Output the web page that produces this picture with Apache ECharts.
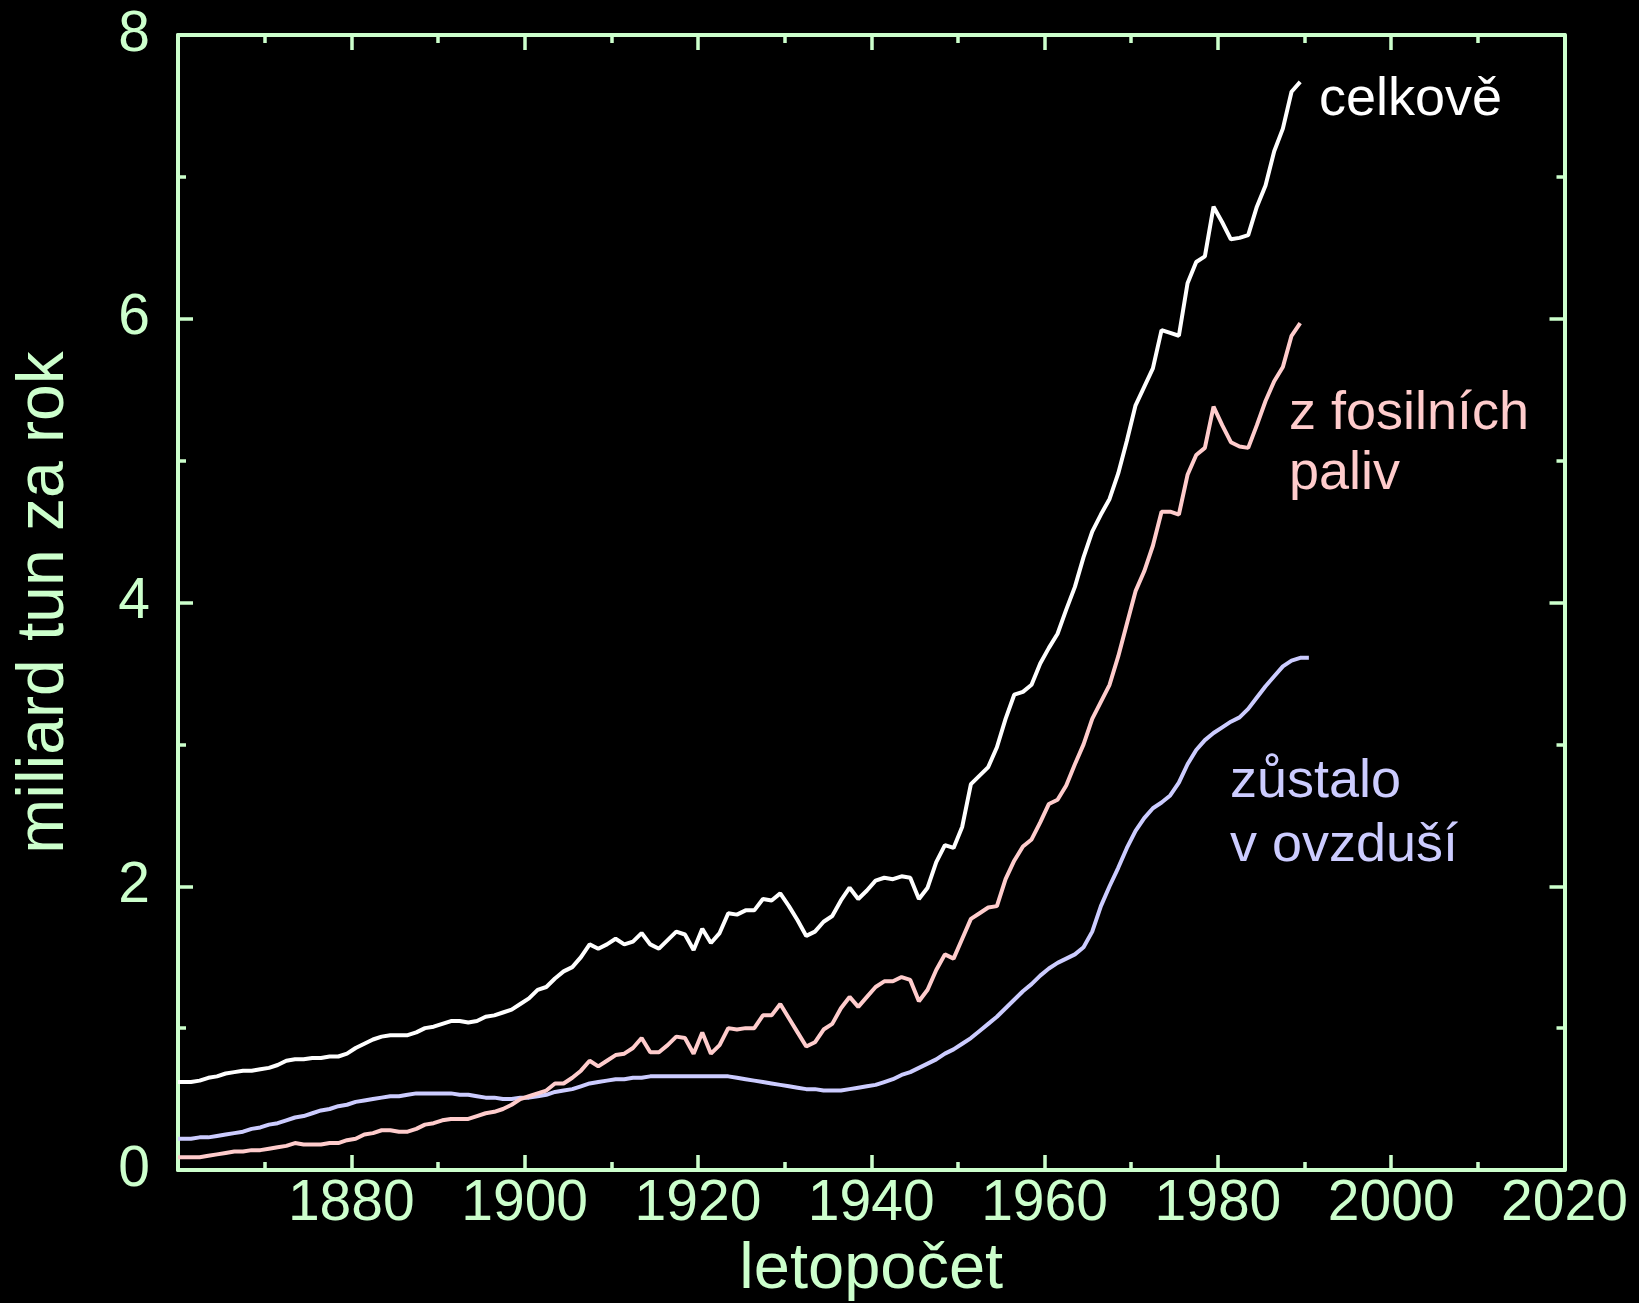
<!DOCTYPE html>
<html>
<head>
<meta charset="utf-8">
<script src="https://cdn.jsdelivr.net/npm/echarts@6/dist/echarts.min.js"></script>
<style>
html,body{margin:0;padding:0;background:#000;}
#c{width:1639px;height:1303px;}
</style>
</head>
<body>
<div id="c"></div>
<script>
// ---- data (one per year, plotted at mid-year) ----
const FIRST_YEAR = 1860;
const xTickLabels = [1880, 1900, 1920, 1940, 1960, 1980, 2000, 2020];
const yTickLabels = [0, 2, 4, 6, 8];

// celkově (total), 1860..1989
const celkove = [
  0.62,0.62,0.63,0.65,0.66,0.68,0.69,0.70,0.70,0.71,
  0.72,0.74,0.77,0.78,0.78,0.79,0.79,0.80,0.80,0.82,
  0.86,0.89,0.92,0.94,0.95,0.95,0.95,0.97,1.00,1.01,
  1.03,1.05,1.05,1.04,1.05,1.08,1.09,1.11,1.13,1.17,
  1.21,1.27,1.29,1.35,1.40,1.43,1.50,1.59,1.56,1.59,
  1.63,1.59,1.61,1.67,1.59,1.56,1.62,1.68,1.66,1.55,
  1.70,1.60,1.67,1.81,1.80,1.83,1.83,1.91,1.90,1.95,
  1.86,1.76,1.65,1.68,1.75,1.79,1.90,1.99,1.91,1.97,
  2.04,2.06,2.05,2.07,2.06,1.91,1.99,2.17,2.29,2.27,
  2.42,2.72,2.78,2.84,2.98,3.18,3.35,3.37,3.42,3.57,
  3.68,3.78,3.95,4.11,4.32,4.50,4.62,4.73,4.91,5.14,
  5.39,5.52,5.65,5.92,5.90,5.88,6.25,6.40,6.44,6.79,
  6.68,6.56,6.57,6.59,6.79,6.94,7.18,7.34,7.60,7.67
];

// z fosilních paliv (fossil fuels), 1860..1989
const fosilni = [
  0.09,0.09,0.09,0.10,0.11,0.12,0.13,0.13,0.14,0.14,
  0.15,0.16,0.17,0.19,0.18,0.18,0.18,0.19,0.19,0.21,
  0.22,0.25,0.26,0.28,0.28,0.27,0.27,0.29,0.32,0.33,
  0.35,0.36,0.36,0.36,0.38,0.40,0.41,0.43,0.46,0.50,
  0.52,0.54,0.56,0.61,0.61,0.65,0.70,0.77,0.73,0.77,
  0.81,0.82,0.86,0.93,0.83,0.83,0.88,0.94,0.93,0.82,
  0.97,0.82,0.88,1.00,0.99,1.00,1.00,1.09,1.09,1.17,
  1.07,0.97,0.87,0.90,0.99,1.03,1.14,1.22,1.15,1.22,
  1.29,1.33,1.33,1.36,1.34,1.19,1.27,1.41,1.52,1.49,
  1.63,1.77,1.81,1.85,1.86,2.05,2.18,2.28,2.33,2.45,
  2.58,2.61,2.71,2.86,3.00,3.18,3.30,3.42,3.62,3.85,
  4.08,4.22,4.40,4.64,4.64,4.62,4.90,5.04,5.09,5.38,
  5.25,5.13,5.10,5.09,5.25,5.42,5.56,5.66,5.88,5.97
];

// zůstalo v ovzduší (remained in the air), 1860..1990
const ovzdusi = [
  0.22,0.22,0.23,0.23,0.24,0.25,0.26,0.27,0.29,0.30,
  0.32,0.33,0.35,0.37,0.38,0.40,0.42,0.43,0.45,0.46,
  0.48,0.49,0.50,0.51,0.52,0.52,0.53,0.54,0.54,0.54,
  0.54,0.54,0.53,0.53,0.52,0.51,0.51,0.50,0.50,0.51,
  0.51,0.52,0.53,0.55,0.56,0.57,0.59,0.61,0.62,0.63,
  0.64,0.64,0.65,0.65,0.66,0.66,0.66,0.66,0.66,0.66,
  0.66,0.66,0.66,0.66,0.65,0.64,0.63,0.62,0.61,0.60,
  0.59,0.58,0.57,0.57,0.56,0.56,0.56,0.57,0.58,0.59,
  0.60,0.62,0.64,0.67,0.69,0.72,0.75,0.78,0.82,0.85,
  0.89,0.93,0.98,1.03,1.08,1.14,1.20,1.26,1.31,1.37,
  1.42,1.46,1.49,1.52,1.57,1.68,1.86,2.00,2.13,2.27,
  2.39,2.48,2.55,2.59,2.64,2.73,2.86,2.96,3.03,3.08,
  3.12,3.16,3.19,3.25,3.33,3.41,3.48,3.55,3.59,3.61,
  3.61
];

const seriesNames = ['celkově', 'z fosilních paliv', 'zůstalo v ovzduší'];

// ---- build ----
function toPairs(vals) {
  const out = [[FIRST_YEAR, vals[0]]];
  vals.forEach((v, i) => out.push([FIRST_YEAR + i + 0.5, v]));
  return out;
}

const GREEN = '#ccffcc';
const FONT = '"Liberation Sans", Arial, Helvetica, sans-serif';

function frameAxis(extra) {
  return Object.assign({
    type: 'value',
    axisLine: { show: true, onZero: false, lineStyle: { color: GREEN, width: 4 } },
    axisTick: { show: true, inside: true, length: 15, lineStyle: { color: GREEN, width: 3.5 } },
    minorTick: { show: true, splitNumber: 2, length: 8, lineStyle: { color: GREEN, width: 3.5 } },
    splitLine: { show: false },
    minorSplitLine: { show: false }
  }, extra);
}

const chart = echarts.init(document.getElementById('c'), null, { renderer: 'canvas' });
chart.setOption({
  backgroundColor: '#000',
  animation: false,
  grid: { left: 178, right: 74.5, top: 35, bottom: 133, outerBoundsMode: 'none', containLabel: false },
  xAxis: [
    frameAxis({
      position: 'bottom', min: 1860, max: 2020, interval: 20,
      name: 'letopočet', nameLocation: 'middle', nameGap: 65,
      nameTextStyle: { color: GREEN, fontSize: 65, fontFamily: FONT },
      axisLabel: {
        show: true, showMinLabel: false, margin: 6, color: GREEN, fontSize: 57, fontFamily: FONT,
        formatter: v => (xTickLabels.indexOf(v) >= 0 ? String(v) : '')
      }
    }),
    frameAxis({ position: 'top', min: 1860, max: 2020, interval: 20, axisLabel: { show: false } })
  ],
  yAxis: [
    frameAxis({
      position: 'left', min: 0, max: 8, interval: 2,
      name: 'miliard tun za rok', nameLocation: 'middle', nameGap: 100, nameRotate: 90,
      nameTextStyle: { color: GREEN, fontSize: 66, fontFamily: FONT },
      axisLabel: {
        show: true, margin: 28, color: GREEN, fontSize: 57, fontFamily: FONT, padding: [0, 0, 14, 0],
        formatter: v => (yTickLabels.indexOf(v) >= 0 ? String(v) : '')
      }
    }),
    frameAxis({ position: 'right', min: 0, max: 8, interval: 2, axisLabel: { show: false } })
  ],
  series: [
    { name: seriesNames[0], type: 'line', data: toPairs(celkove), showSymbol: false, symbol: 'none',
      clip: true, lineStyle: { color: '#ffffff', width: 4 }, z: 3 },
    { name: seriesNames[1], type: 'line', data: toPairs(fosilni), showSymbol: false, symbol: 'none',
      clip: true, lineStyle: { color: '#ffcccc', width: 4 }, z: 2 },
    { name: seriesNames[2], type: 'line', data: toPairs(ovzdusi), showSymbol: false, symbol: 'none',
      clip: true, lineStyle: { color: '#ccccff', width: 4 }, z: 1 }
  ],
  graphic: [
    { type: 'text', left: 1319, top: 73, style: { text: 'celkově', fill: '#ffffff', font: '54px ' + FONT } },
    { type: 'text', left: 1289, top: 384, style: { text: 'z fosilních\npaliv', fill: '#ffcccc', font: '54px ' + FONT, lineHeight: 60 } },
    { type: 'text', left: 1230, top: 750, style: { text: 'zůstalo\nv ovzduší', fill: '#ccccff', font: '54px ' + FONT, lineHeight: 64 } }
  ]
});
</script>
</body>
</html>
